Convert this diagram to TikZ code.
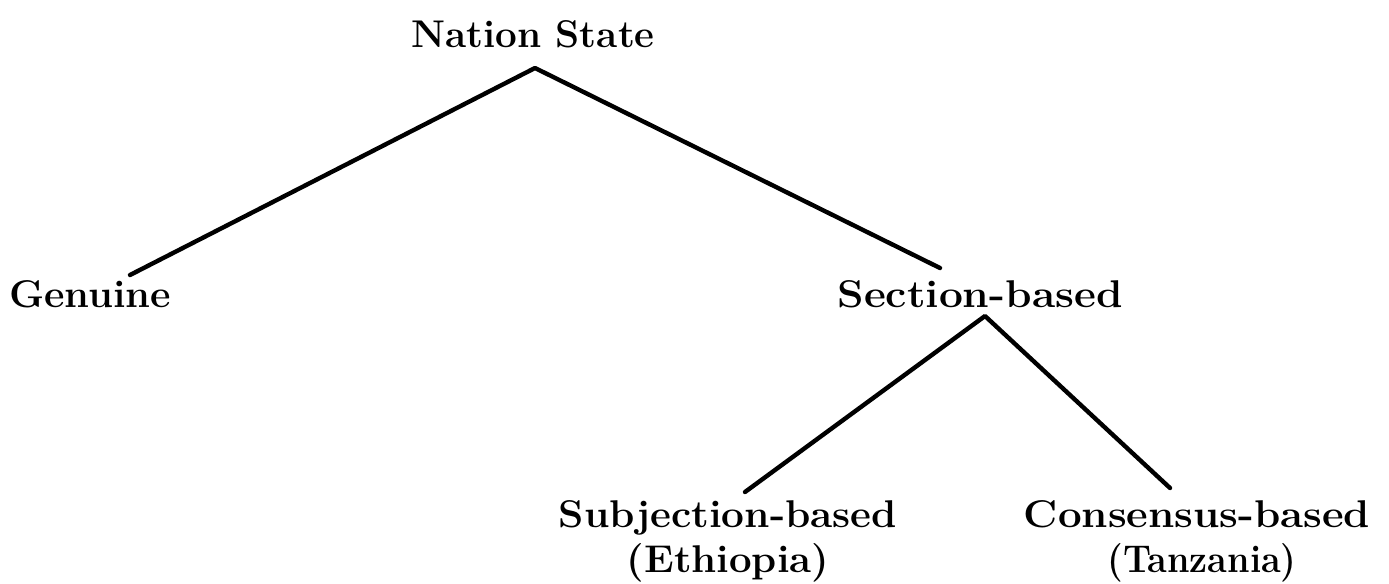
\documentclass[tikz,border=0pt]{standalone}
\usepackage{graphicx}
\newcommand{\hstretch}[2]{\scalebox{#1}[1]{#2}}
\begin{document}
\begin{tikzpicture}[x=0.02cm,y=-0.02cm,
  lbl/.style={inner sep=0pt,anchor=base,font=\fontsize{22}{26}\selectfont\bfseries},
  branch/.style={line width=2.5pt,line cap=round,line join=round}]
\useasboundingbox (0,0) rectangle (1389,583);
\node[lbl] (ns) at (533,47) {Nation State};
\node[lbl] (gen) at (90,307) {\hstretch{1.03}{Genuine}};
\node[lbl] (sec) at (980,307) {\hstretch{1.10}{Section-based}};
\node[lbl] (sub) at (728,527) {\hstretch{1.05}{Subjection-based}};
\node[lbl] (eth) at (728,572) {\hstretch{1.04}{(Ethiopia)}};
\node[lbl] (con) at (1197,527) {\hstretch{1.09}{Consensus-based}};
\node[lbl] (tan) at (1202,572) {\hstretch{0.93}{(Tanzania)}};
\coordinate (nsA) at (535,68);
\coordinate (genT) at (130,275);
\coordinate (secT) at (940,268);
\coordinate (secA) at (985,316);
\coordinate (subT) at (745,492);
\coordinate (conT) at (1170,488);
\draw[branch] (genT) -- (nsA) -- (secT);
\draw[branch] (subT) -- (secA) -- (conT);
\end{tikzpicture}
\end{document}
